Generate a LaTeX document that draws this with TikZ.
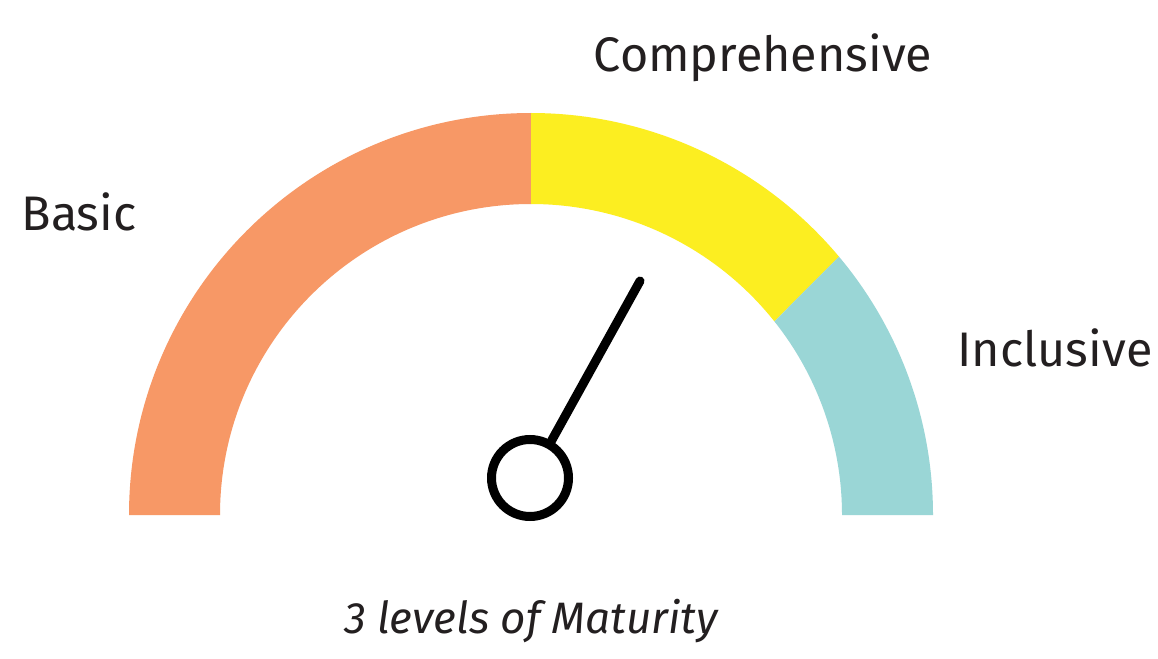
\documentclass[tikz,border=0pt]{standalone}
\usepackage{fontspec}
\usetikzlibrary{calc}
\setmainfont{Fira Sans}
\definecolor{gorange}{HTML}{F79866}
\definecolor{gyellow}{HTML}{FCEE21}
\definecolor{gteal}{HTML}{9AD6D6}
\definecolor{gtext}{HTML}{231F20}
\begin{document}
\begin{tikzpicture}[x=1pt,y=1pt,
  lbl/.style={text=gtext,font=\fontsize{48.5}{58}\selectfont,anchor=base,inner sep=0pt},
  captxt/.style={text=gtext,font=\itshape\fontsize{44}{53}\selectfont,anchor=base,inner sep=0pt}]
\useasboundingbox[fill=white] (0,0) rectangle (1158,-658);
\coordinate (c) at (531,-515);
% segments
\fill[gorange] (c) ++(180:402) arc[start angle=180,end angle=90,radius=402] -- ++(0,-91) arc[start angle=90,end angle=180,radius=311] -- cycle;
\fill[gyellow] (c) ++(90:402) arc[start angle=90,end angle=40,radius=402] -- ($(c)+(38.5:311)$) arc[start angle=38.5,end angle=90,radius=311] -- cycle;
\fill[gteal] (c) ++(40:402) arc[start angle=40,end angle=0,radius=402] -- ++(-91,0) arc[start angle=0,end angle=38.5,radius=311] -- cycle;
% needle
\node[circle,draw=black,line width=9pt,minimum size=77pt,inner sep=0pt] (hub) at (530,-478) {};
\coordinate (tip) at (640,-281);
\draw[line width=9pt,line cap=round] (hub.60.9) -- (tip);
% labels
\node[lbl] (comp) at (763,-72) {Comprehensive};
\node[lbl] (basic) at (79,-230) {Basic};
\node[lbl] (incl) at (1055,-366) {Inclusive};
\node[captxt] (mat) at (531,-633) {3 levels of Maturity};
\end{tikzpicture}
\end{document}
